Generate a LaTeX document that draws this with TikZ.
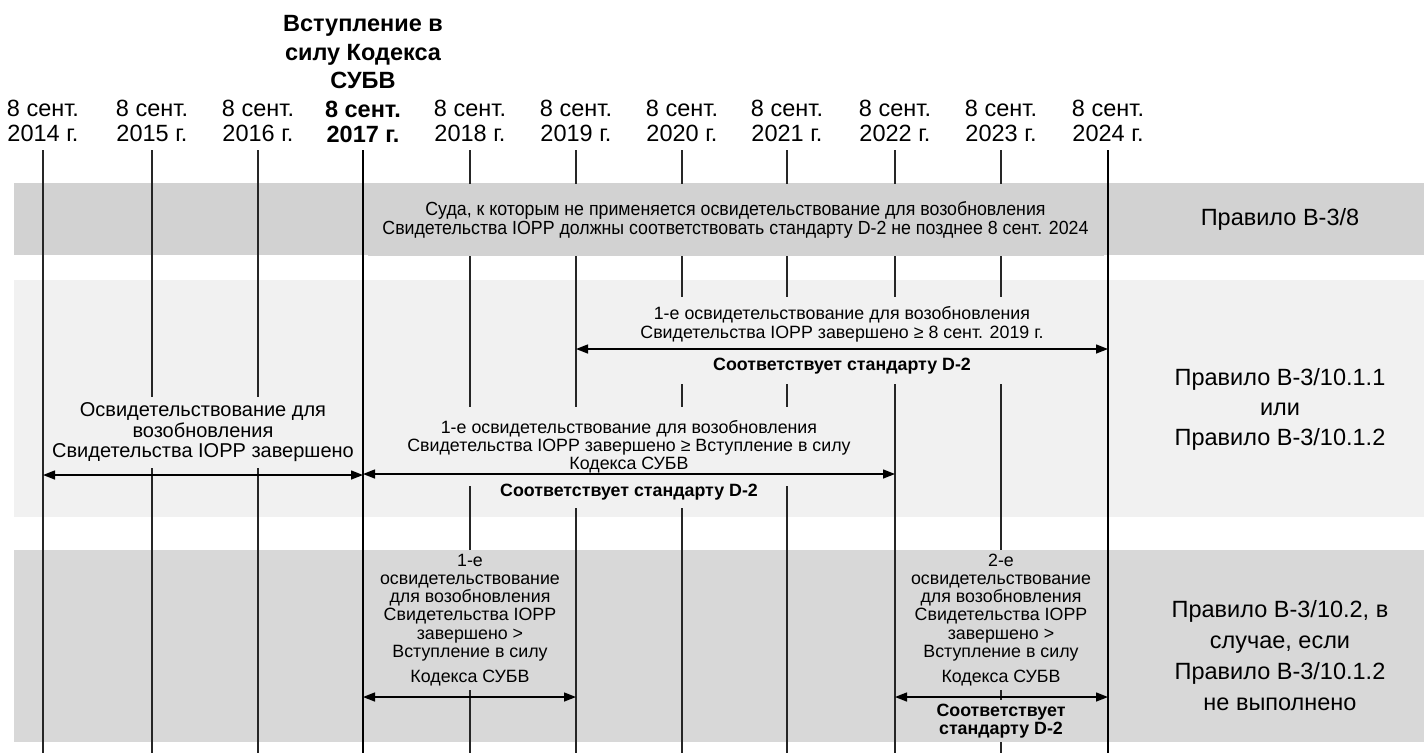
\documentclass[tikz,border=0pt]{standalone}
\usepackage{fontspec}
\setmainfont{Liberation Sans}
\newfontfamily\narrowsans[FakeStretch=0.935]{Liberation Sans}
\usetikzlibrary{arrows.meta}
\definecolor{bandA}{RGB}{210,210,210}
\definecolor{bandB}{RGB}{241,241,241}
\definecolor{bandC}{RGB}{216,216,216}
\begin{document}
\begin{tikzpicture}[x=1pt,y=-1pt,
  every node/.style={inner sep=0pt, outer sep=0pt, align=center, text=black},
  thinline/.style={line width=1.2pt, draw=black!85},
  thickline/.style={line width=2.8pt, draw=black},
  span/.style={line width=1.4pt, {Triangle[length=12pt,width=9pt]}-{Triangle[length=12pt,width=9pt]}},
  datelabel/.style={font=\fontsize{23.5}{25}\selectfont},
  keydate/.style={font=\bfseries\fontsize{23.5}{25.5}\selectfont},
  small/.style={font=\fontsize{17.8}{18.2}\selectfont},
  smallbold/.style={font=\bfseries\fontsize{17.8}{18.2}\selectfont},
  rulelabel/.style={font=\fontsize{23.5}{30}\selectfont},
]
\useasboundingbox (0,0) rectangle (1424,753);

% bands
\fill[bandA] (14,183) rectangle (1424,255);
\fill[bandB] (14,280) rectangle (1424,517);
\fill[bandC] (14,550) rectangle (1424,742);

% year lines and date labels
\foreach \yr/\x in {14/43, 15/152, 16/258, 18/470, 19/576, 20/682, 21/787, 22/895, 23/1001, 24/1108} {
  \coordinate (top\yr) at (\x,150);
  \coordinate (bot\yr) at (\x,753);
  \node[datelabel] (d\yr) at (\x,121) {8 сент.\\20\yr\ г.};
}
\coordinate (top17) at (363,150);
\coordinate (bot17) at (363,753);
\node[keydate] (d17) at (363,122) {8 сент.\\2017 г.};
\node[font=\bfseries\fontsize{23.5}{28.5}\selectfont] (hdr) at (363,52.5) {Вступление в\\силу Кодекса\\СУБВ};

\foreach \yr in {14,15,16,18,19,20,21,22,23} {
  \draw[thinline] (top\yr) -- (bot\yr);
}
\draw[thickline] (top17) -- (bot17);
\draw[thickline] (top24) -- (bot24);

% band 1
\node[fill=bandA, minimum width=736pt, minimum height=72pt,
      font=\narrowsans\fontsize{19}{18.5}\selectfont] (b1txt) at (735.5,220)
  {Суда, к которым не применяется освидетельствование для возобновления\\Свидетельства IOPP должны соответствовать стандарту D-2 не позднее 8 сент. 2024};
\node[rulelabel] (r1) at (1280,219) {Правило В-3/8};

% band 2
\node[fill=bandB, font=\fontsize{20}{20.5}\selectfont, inner xsep=2pt, minimum height=71pt] (L) at (203,432.5)
  {Освидетельствование для\\возобновления\\Свидетельства IOPP завершено};
\node[fill=bandB, small, inner xsep=3pt, minimum height=87pt] (U) at (842,340.5)
  {1-е освидетельствование для возобновления\\Свидетельства IOPP завершено ≥ 8 сент. 2019 г.\\[14pt]\textbf{Соответствует стандарту D-2}};
\node[fill=bandB, small, inner xsep=3pt, minimum height=79pt] (M) at (629,446.5)
  {1-е освидетельствование для возобновления\\Свидетельства IOPP завершено ≥ Вступление в силу\\Кодекса СУБВ};
\node[fill=bandB, smallbold, inner xsep=3pt, minimum height=32pt] (M2) at (629,492)
  {Соответствует стандарту D-2};
\node[rulelabel] (r2) at (1280,409) {Правило В-3/10.1.1\\или\\Правило В-3/10.1.2};

\coordinate (aL1) at (43,475);  \coordinate (aL2) at (363,475);
\coordinate (aU1) at (576,349); \coordinate (aU2) at (1108,349);
\coordinate (aM1) at (363,474); \coordinate (aM2) at (895,474);
\draw[span] (aL1) -- (aL2);
\draw[span] (aU1) -- (aU2);
\draw[span] (aM1) -- (aM2);

% band 3
\node[fill=bandC, small, inner xsep=2pt, minimum height=140pt] (A) at (470,620)
  {1-е\\освидетельствование\\для возобновления\\Свидетельства IOPP\\завершено >\\Вступление в силу\\[7pt]Кодекса СУБВ};
\node[fill=bandC, small, inner xsep=2pt, minimum height=140pt] (B) at (1001,620)
  {2-е\\освидетельствование\\для возобновления\\Свидетельства IOPP\\завершено >\\Вступление в силу\\[7pt]Кодекса СУБВ};
\node[fill=bandC, smallbold, minimum height=42pt, inner xsep=2pt] (B2) at (1001,721)
  {Соответствует\\стандарту D-2};
\node[font=\fontsize{23.5}{31}\selectfont] (r3) at (1280,656)
  {Правило В-3/10.2, в\\случае, если\\Правило В-3/10.1.2\\не выполнено};

\coordinate (aA1) at (363,697);  \coordinate (aA2) at (576,697);
\coordinate (aB1) at (895,697);  \coordinate (aB2) at (1108,697);
\draw[span] (aA1) -- (aA2);
\draw[span] (aB1) -- (aB2);
\end{tikzpicture}
\end{document}
